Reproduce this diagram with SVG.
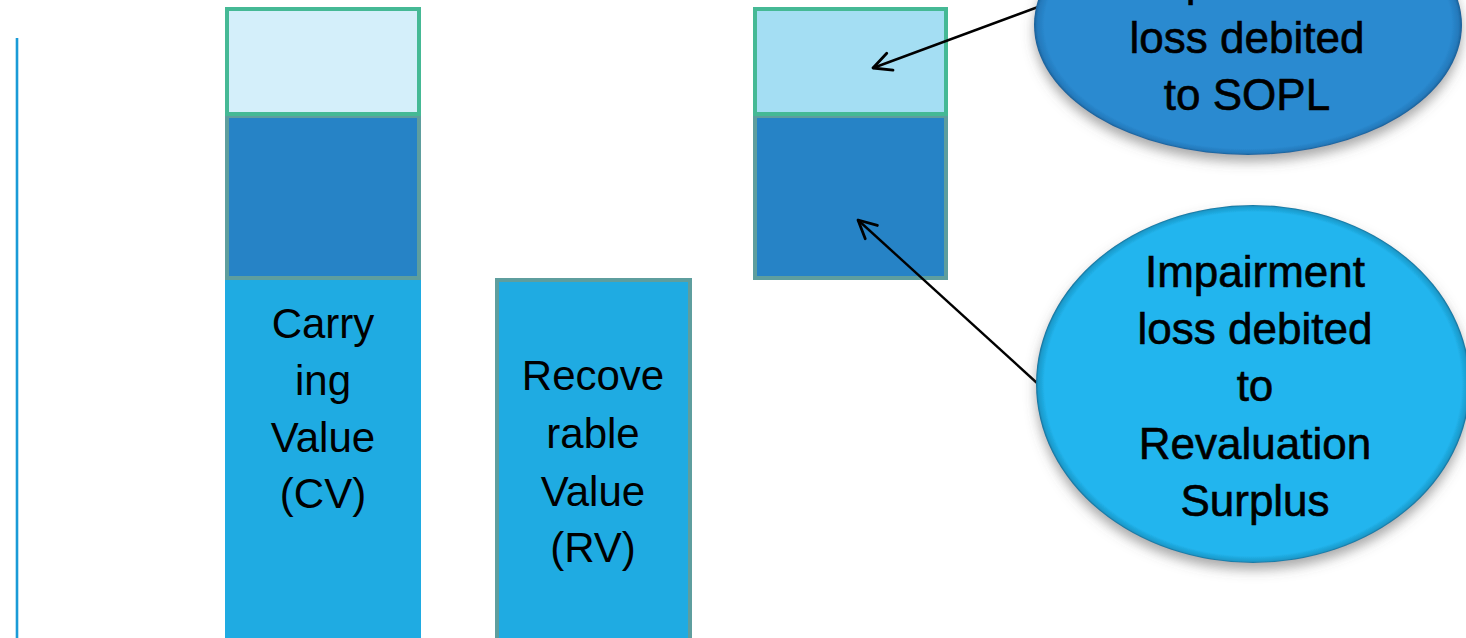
<svg xmlns="http://www.w3.org/2000/svg" width="1466" height="638" viewBox="0 0 1466 638">
  <style>
    .bar-text { font-family: "Liberation Sans", Arial, sans-serif; font-size: 42px; fill: #000; text-anchor: middle; }
    .bubble-text { font-family: "Liberation Sans", Arial, sans-serif; font-size: 44px; fill: #000; stroke: #000; stroke-width: 0.6; text-anchor: middle; }
    .excess { stroke: #45B995; stroke-width: 4; }
    .reval { fill: #2683C6; stroke: #5E9E9E; stroke-width: 4; }
    .base { fill: #1FABE2; }
    .connector { fill: none; stroke: #000; stroke-width: 2.4; }
  </style>
  <defs>
    <marker id="open-arrow" markerUnits="userSpaceOnUse" markerWidth="26" markerHeight="26" viewBox="-22 -13 26 26" refX="0" refY="0" orient="auto">
      <path d="M-18,-9 L0,0 L-18,9" fill="none" stroke="#000" stroke-width="2.8" stroke-linecap="round" stroke-linejoin="round"/>
    </marker>
    <radialGradient id="bubble-dark" cx="50%" cy="50%" r="50%">
      <stop offset="0.95" stop-color="#2A8AD0"/>
      <stop offset="0.985" stop-color="#2479BB"/>
      <stop offset="1" stop-color="#1A5F96"/>
    </radialGradient>
    <radialGradient id="bubble-light" cx="50%" cy="50%" r="50%">
      <stop offset="0.96" stop-color="#21B5EE"/>
      <stop offset="0.99" stop-color="#1C9ACB"/>
      <stop offset="1" stop-color="#156F98"/>
    </radialGradient>
    <filter id="bubble-shadow" x="-10%" y="-10%" width="120%" height="130%">
      <feDropShadow dx="0" dy="7" stdDeviation="6" flood-color="#555" flood-opacity="0.5"/>
    </filter>
    <linearGradient id="x-axis" x1="0" y1="0" x2="1" y2="0">
      <stop offset="0" stop-color="#8FCDE6"/>
      <stop offset="1" stop-color="#D6E9F1"/>
    </linearGradient>
  </defs>

  <!-- axes -->
  <g id="axes">
    <line x1="17" y1="38" x2="17" y2="638" stroke="#1A9BD7" stroke-width="2.6"/>
    <line x1="17" y1="637" x2="1188" y2="637" stroke="url(#x-axis)" stroke-width="2"/>
  </g>

  <!-- carrying value column -->
  <g id="carrying-value">
    <rect class="base" x="225" y="280" width="196" height="360"/>
    <rect class="reval" x="227" y="116" width="192" height="162"/>
    <rect class="excess" x="227" y="9" width="192" height="105" fill="#D4EFFA"/>
    <text class="bar-text" x="323" y="338">Carry</text>
    <text class="bar-text" x="323" y="395">ing</text>
    <text class="bar-text" x="323" y="452">Value</text>
    <text class="bar-text" x="323" y="508">(CV)</text>
  </g>

  <!-- recoverable value column -->
  <g id="recoverable-value">
    <rect class="base" x="497" y="280" width="193" height="362" stroke="#5E9E9E" stroke-width="4"/>
    <text class="bar-text" x="593" y="390">Recove</text>
    <text class="bar-text" x="593" y="448">rable</text>
    <text class="bar-text" x="593" y="506">Value</text>
    <text class="bar-text" x="593" y="562">(RV)</text>
  </g>

  <!-- impairment loss split -->
  <g id="impairment-split">
    <rect class="reval" x="755" y="116" width="191" height="162"/>
    <rect class="excess" x="755" y="9" width="191" height="105" fill="#A4DEF3"/>
  </g>

  <!-- connectors -->
  <g id="connectors">
    <line class="connector" x1="1038" y1="7" x2="873" y2="68" marker-end="url(#open-arrow)"/>
    <line class="connector" x1="1037" y1="383" x2="858" y2="220" marker-end="url(#open-arrow)"/>
  </g>

  <!-- bubble: loss to SOPL -->
  <g id="bubble-sopl">
    <ellipse cx="1248" cy="25" rx="214" ry="130" fill="url(#bubble-dark)" filter="url(#bubble-shadow)"/>
    <text class="bubble-text" x="1247" y="-4">Impairment</text>
    <text class="bubble-text" x="1247" y="53">loss debited</text>
    <text class="bubble-text" x="1247" y="110">to SOPL</text>
  </g>

  <!-- bubble: loss to revaluation surplus -->
  <g id="bubble-revaluation">
    <ellipse cx="1253" cy="384" rx="217" ry="179" fill="url(#bubble-light)" filter="url(#bubble-shadow)"/>
    <text class="bubble-text" x="1255" y="287">Impairment</text>
    <text class="bubble-text" x="1255" y="344">loss debited</text>
    <text class="bubble-text" x="1255" y="401">to</text>
    <text class="bubble-text" x="1255" y="459">Revaluation</text>
    <text class="bubble-text" x="1255" y="516">Surplus</text>
  </g>
</svg>
